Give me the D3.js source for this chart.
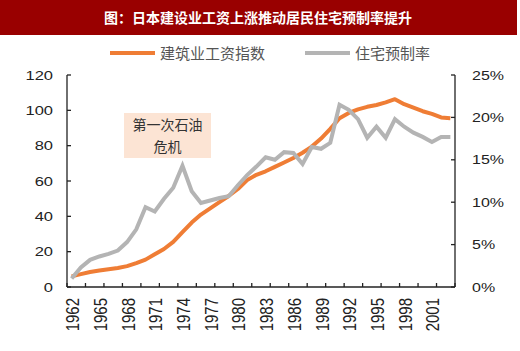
<!DOCTYPE html>
<html>
<head>
<meta charset="utf-8">
<script src="https://cdn.jsdelivr.net/npm/d3@7/dist/d3.min.js"></script>
<style>
  body { margin: 0; background: #fff; }
  svg { display: block; }
</style>
</head>
<body>
<div id="chart"></div>
<script>
// data
const years = d3.range(1962, 2004);
const wageIndex = [6, 7.3, 8.5, 9.3, 10, 10.8, 11.8, 13.5, 15.5, 18.5, 21.5, 25.5, 31, 36.5, 41, 44.5,
  48, 51.5, 55.5, 60.5, 63.5, 65.5, 68, 70.5, 73, 76, 79.5, 84, 89.5, 95.5, 98.5, 100.5, 102, 103,
  104.5, 106.3, 103.5, 101.5, 99.5, 98, 96, 95.5];
const prefabRate = [1.0, 2.3, 3.2, 3.6, 3.9, 4.3, 5.3, 6.8, 9.4, 8.9, 10.4, 11.7, 14.3, 11.3, 9.9, 10.2,
  10.5, 10.7, 12.0, 13.2, 14.2, 15.3, 15.0, 15.9, 15.8, 14.5, 16.5, 16.3, 17.0, 21.5, 20.9, 19.8,
  17.6, 18.9, 17.6, 19.8, 18.9, 18.2, 17.7, 17.1, 17.7, 17.7];
const leftTicks = [0, 20, 40, 60, 80, 100, 120];
const rightTicks = [0, 5, 10, 15, 20, 25];
const labelYears = years.filter((d, i) => i % 3 === 0);

const W = 520, H = 351;
const plot = { left: 67, right: 455, top: 75, bottom: 287 };
const orange = "#ef7d35", gray = "#b4b4b4", axisCol = "#222";

const svg = d3.select("#chart").append("svg")
  .attr("width", W).attr("height", H);

// title bar
svg.append("rect").attr("x", 0).attr("y", 0).attr("width", 517).attr("height", 35).attr("fill", "#990000");
svg.append("text")
  .attr("x", 258).attr("y", 23)
  .attr("text-anchor", "middle")
  .attr("fill", "#fff")
  .attr("font-family", "'Noto Sans CJK SC', sans-serif")
  .attr("font-weight", "bold")
  .attr("font-size", "14px")
  .text("图：日本建设业工资上涨推动居民住宅预制率提升");

// legend
const legend = svg.append("g").attr("font-family", "'Noto Sans CJK SC', sans-serif").attr("font-size", "15px").attr("fill", "#555");
[["建筑业工资指数", orange, 110], ["住宅预制率", gray, 305]].forEach(([name, c, lx]) => {
  legend.append("line").attr("x1", lx).attr("x2", lx + 45).attr("y1", 53).attr("y2", 53)
    .attr("stroke", c).attr("stroke-width", 4);
  legend.append("text").attr("x", lx + 50).attr("y", 58.5).text(name);
});

const x = d3.scaleBand().domain(years).range([plot.left, plot.right]).padding(0);
const cx = d => x(d) + x.bandwidth() / 2;
const yL = d3.scaleLinear().domain([0, 120]).range([plot.bottom, plot.top]);
const yR = d3.scaleLinear().domain([0, 25]).range([plot.bottom, plot.top]);

// annotation box
const note = svg.append("g");
note.append("rect").attr("x", 124).attr("y", 113).attr("width", 87).attr("height", 45).attr("fill", "#fce4d4");
note.append("text").attr("x", 167.5).attr("y", 130).attr("text-anchor", "middle")
  .attr("font-family", "'Noto Sans CJK SC', serif").attr("font-size", "14px").attr("fill", "#333")
  .text("第一次石油");
note.append("text").attr("x", 167.5).attr("y", 152).attr("text-anchor", "middle")
  .attr("font-family", "'Noto Sans CJK SC', serif").attr("font-size", "14px").attr("fill", "#333")
  .text("危机");

// lines
const lineL = d3.line().x((d, i) => cx(years[i])).y(d => yL(d));
const lineR = d3.line().x((d, i) => cx(years[i])).y(d => yR(d));
svg.append("path").datum(wageIndex).attr("d", lineL)
  .attr("fill", "none").attr("stroke", orange).attr("stroke-width", 4).attr("stroke-linejoin", "round");
svg.append("path").datum(prefabRate).attr("d", lineR)
  .attr("fill", "none").attr("stroke", gray).attr("stroke-width", 4).attr("stroke-linejoin", "miter");

// axes
const axes = svg.append("g").attr("stroke", axisCol).attr("stroke-width", 1.3);
axes.append("line").attr("x1", plot.left).attr("x2", plot.left).attr("y1", plot.top).attr("y2", plot.bottom);
axes.append("line").attr("x1", plot.right).attr("x2", plot.right).attr("y1", plot.top).attr("y2", plot.bottom);
axes.append("line").attr("x1", plot.left).attr("x2", plot.right).attr("y1", plot.bottom).attr("y2", plot.bottom);

leftTicks.forEach(t => {
  axes.append("line").attr("x1", plot.left).attr("x2", plot.left + 4).attr("y1", yL(t)).attr("y2", yL(t));
});
rightTicks.forEach(t => {
  axes.append("line").attr("x1", plot.right - 4).attr("x2", plot.right).attr("y1", yR(t)).attr("y2", yR(t));
});
// tick marks every two categories
d3.range(0, years.length + 1, 2).forEach(i => {
  const tx = plot.left + i * x.bandwidth();
  axes.append("line").attr("x1", tx).attr("x2", tx).attr("y1", plot.bottom - 4).attr("y2", plot.bottom);
});

const numFont = "'Liberation Sans', Arial, sans-serif";
const labels = svg.append("g").attr("font-family", numFont).attr("fill", "#222");
leftTicks.forEach(t => {
  labels.append("g").attr("transform", `translate(53,${yL(t) + 4.5}) scale(1.32,1)`)
    .append("text").attr("text-anchor", "end").attr("font-size", "12.5px").text(t);
});
rightTicks.forEach(t => {
  labels.append("g").attr("transform", `translate(472,${yR(t) + 4.5}) scale(1.28,1)`)
    .append("text").attr("text-anchor", "start").attr("font-size", "12.5px").text(t + "%");
});
labelYears.forEach(yr => {
  labels.append("g").attr("transform", `translate(${cx(yr) + 7.5},298) scale(1.2,1) rotate(-90)`)
    .append("text").attr("text-anchor", "end").attr("font-size", "15px").text(yr);
});
</script>
</body>
</html>
